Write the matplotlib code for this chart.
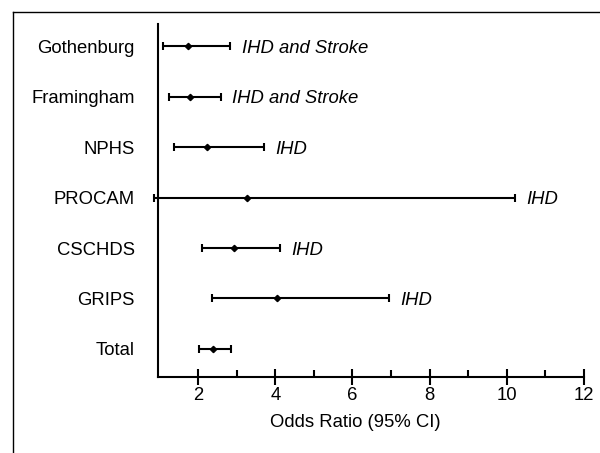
import matplotlib
matplotlib.use("Agg")
import matplotlib.pyplot as plt
from matplotlib.lines import Line2D
from matplotlib.ticker import FixedLocator

plt.rcParams['font.family'] = ['Liberation Sans', 'DejaVu Sans']

studies = ["Gothenburg", "Framingham", "NPHS", "PROCAM", "CSCHDS", "GRIPS", "Total"]
odds_ratio = [1.72, 1.78, 2.23, 3.27, 2.92, 4.04, 2.38]
ci_lower = [1.09, 1.25, 1.38, 0.84, 2.09, 2.36, 2.01]
ci_upper = [2.83, 2.58, 3.70, 10.22, 4.11, 6.94, 2.86]
endpoints = ["IHD and Stroke", "IHD and Stroke", "IHD", "IHD", "IHD", "IHD", ""]
x_ticks = [2, 4, 6, 8, 10, 12]
x_minor_ticks = [3, 5, 7, 9, 11]

fig = plt.figure(figsize=(6.0, 4.53), dpi=100)
ax = fig.add_axes([157.5/600, 76.3/453, 426.2/600, 352.7/453])

n = len(studies)
ypos = [n - i for i in range(n)]
xerr = [[o - l for o, l in zip(odds_ratio, ci_lower)],
        [u - o for o, u in zip(odds_ratio, ci_upper)]]

ax.errorbar(odds_ratio, ypos, xerr=xerr, fmt='D', color='black', ecolor='black',
            markersize=3.2, elinewidth=1.5, capsize=2.7, capthick=1.5, clip_on=False)

for y, u, lab in zip(ypos, ci_upper, endpoints):
    if lab:
        ax.annotate(lab, xy=(u, y), xytext=(8.3, 0), textcoords='offset points',
                    ha='left', va='center_baseline', fontsize=13.3, style='italic')

ax.set_xlim(0.94, 12)
ax.set_ylim(0.45, 7.44)
ax.set_xticks(x_ticks)
ax.xaxis.set_minor_locator(FixedLocator(x_minor_ticks))
ax.set_yticks(ypos)
ax.set_yticklabels(studies, fontsize=13.3)
ax.tick_params(axis='y', length=0, pad=16.5)
ax.tick_params(axis='x', which='major', direction='inout', length=11.5, width=1.5,
               pad=2, labelsize=13.3)
ax.tick_params(axis='x', which='minor', direction='in', length=5, width=1.5)

for s in ['top', 'right']:
    ax.spines[s].set_visible(False)
for s in ['left', 'bottom']:
    ax.spines[s].set_linewidth(1.5)

ax.set_xlabel("Odds Ratio (95% CI)", fontsize=13.3)
ax.xaxis.set_label_coords(0.465, -0.107)

fig.add_artist(Line2D([13.3/600, 1.0], [1 - 11.7/453, 1 - 11.7/453],
                      transform=fig.transFigure, color='black', lw=1.0))
fig.add_artist(Line2D([13.3/600, 13.3/600], [0.0, 1 - 11.7/453],
                      transform=fig.transFigure, color='black', lw=1.0))

fig.savefig("out.png", dpi=100)
